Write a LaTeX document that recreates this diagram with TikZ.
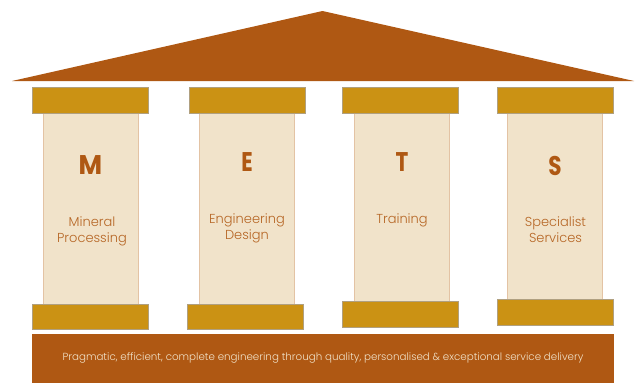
\documentclass[tikz,border=0pt]{standalone}
\usepackage{fontspec}
\setmainfont{Poppins}
\newfontfamily\lightfont{Poppins Light}
\definecolor{roofc}{HTML}{AF5813}
\definecolor{capc}{HTML}{CB9214}
\definecolor{shaftc}{HTML}{F1E3CA}
\definecolor{shaftl}{HTML}{E3C3A4}
\definecolor{capl}{HTML}{B0A080}
\tikzset{
  capbox/.style={draw=capl,line width=0.8pt,fill=capc},
  shaftbox/.style={draw=shaftl,line width=1pt,fill=shaftc},
  letterlab/.style={text=roofc,font=\fontsize{27}{30}\selectfont\bfseries},
  namelab/.style={text=roofc!90!shaftc,align=center,font=\fontsize{13}{16}\selectfont\lightfont},
  bandlab/.style={text=shaftc,font=\fontsize{10.3}{12}\selectfont\lightfont}
}
\begin{document}
\begin{tikzpicture}[x=1pt,y=-1pt]
\useasboundingbox (0,0) rectangle (639,383);
\fill[roofc] (12,81) -- (322.5,11) -- (634,81) -- cycle;
% shafts
\draw[shaftbox] (43.5,113) rectangle (138,304);
\draw[shaftbox] (199.5,113) rectangle (294.5,304);
\draw[shaftbox] (354.5,113) rectangle (449.5,301);
\draw[shaftbox] (507.5,113) rectangle (602.5,299);
% capitals
\draw[capbox] (32.3,87.5) rectangle (148.5,113.5);
\draw[capbox] (189.2,87.5) rectangle (305,113.5);
\draw[capbox] (342.2,87.5) rectangle (458,113.5);
\draw[capbox] (497.3,87.5) rectangle (613.5,113.5);
% bases
\draw[capbox] (32.3,304) rectangle (148.5,329);
\draw[capbox] (187,304) rectangle (303,329);
\draw[capbox] (342.2,301.5) rectangle (458,327);
\draw[capbox] (497.3,299.5) rectangle (613.5,325);
% band
\fill[roofc] (32,333.5) rectangle (613.5,383);
\node[bandlab] (band) at (323,358.3) {Pragmatic, efficient, complete engineering through quality, personalised \& exceptional service delivery};
\node[letterlab] (m) at (90.5,165) {\scalebox{.95}[1]{M}};
\node[letterlab] (e) at (247,162.5) {\scalebox{.78}[1]{E}};
\node[letterlab] (t) at (402,162.5) {\scalebox{.8}[1]{T}};
\node[letterlab] (s) at (555,166) {\scalebox{.8}[1]{S}};
\node[namelab] (mp) at (92,231) {Mineral\\Processing};
\node[namelab] (ed) at (247,228) {Engineering\\Design};
\node[namelab] (tr) at (402,220) {Training};
\node[namelab] (ss) at (555.5,230) {Specialist\\Services};
\end{tikzpicture}
\end{document}
